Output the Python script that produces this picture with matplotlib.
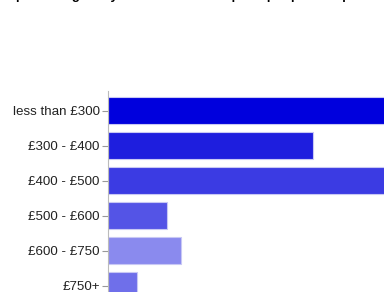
import matplotlib
matplotlib.use("Agg")
import matplotlib.pyplot as plt

categories = ["less than £300", "£300 - £400", "£400 - £500", "£500 - £600", "£600 - £750", "£750+"]
counts = [22, 14, 20, 4, 5, 2]
colors = ["#0000dd", "#1e1ede", "#3b3be3", "#5454e6", "#8a8aee", "#6f6fea"]
title = "What price range do you consider a fair price per pair of specs?"

plt.rcParams['font.family'] = ['Liberation Sans', 'DejaVu Sans']

fig = plt.figure(figsize=(3.84, 2.92), dpi=100)
# axes run off the right and bottom edge like the reference crop
ax = fig.add_axes([108/384, -0.0445, 0.9, 0.7325])

y = range(len(categories))
ax.barh(y, counts, height=0.78, color=colors, edgecolor="#c8c8f4", linewidth=0.8)
ax.set_yticks(list(y))
ax.set_yticklabels(categories, fontsize=9.6, color="#222222")
ax.set_ylim(len(categories) - 0.443, -0.557)
ax.set_xlim(0, 23.6)
ax.set_xticks([])
for s in ["top", "right", "bottom"]:
    ax.spines[s].set_visible(False)
ax.spines["left"].set_color("#bbbbbb")
ax.tick_params(axis="y", length=4, color="#999999", pad=2)

fig.text(0.47, 1.004, title, ha="center", va="baseline", fontsize=9.5, fontweight="bold")

fig.savefig("out.png", dpi=100)
